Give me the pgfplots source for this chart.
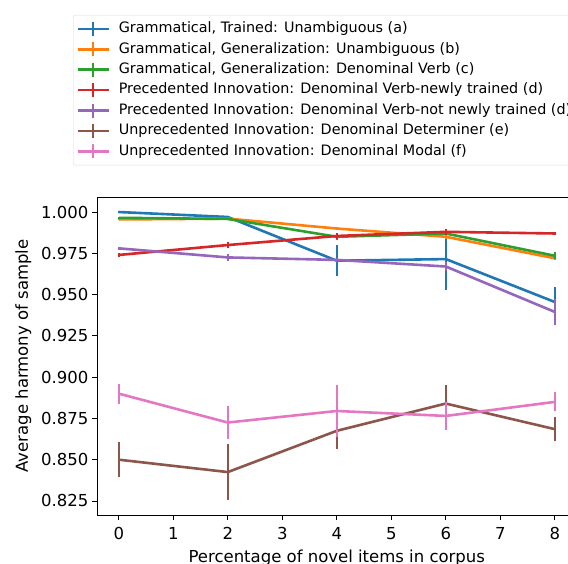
\documentclass[border=0pt]{standalone}
\usepackage{fontspec}
\setmainfont{DejaVu Sans}
\usepackage{pgfplots}
\pgfplotsset{compat=1.18}
\definecolor{c0}{HTML}{1F77B4}
\definecolor{c1}{HTML}{FF7F0E}
\definecolor{c2}{HTML}{2CA02C}
\definecolor{c3}{HTML}{D62728}
\definecolor{c4}{HTML}{9467BD}
\definecolor{c5}{HTML}{8C564B}
\definecolor{c6}{HTML}{E377C2}
\begin{document}
\begin{tikzpicture}
\begin{axis}[
  at={(97pt,48pt)}, anchor=south west,
  scale only axis, width=479.6pt, height=318pt,
  xmin=-0.4, xmax=8.4, ymin=0.8165, ymax=1.0091,
  xtick={0,1,2,3,4,5,6,7,8},
  ytick={0.825,0.85,0.875,0.9,0.925,0.95,0.975,1.0},
  yticklabel style={/pgf/number format/.cd, fixed, fixed zerofill, precision=3},
  /pgf/number format/assume math mode=true,
  tick label style={font=\fontsize{16.5}{19}\selectfont},
  xticklabel style={yshift=-4pt},
  label style={font=\fontsize{16.5}{19}\selectfont},
  xlabel={Percentage of novel items in corpus},
  ylabel={Average harmony of sample},
  xlabel style={yshift=-3pt},
  ylabel style={yshift=3pt},
  tick align=outside, tick pos=left, major tick length=5pt,
  every tick/.style={black, line width=0.9pt},
  axis line style={line width=0.9pt},
  every axis plot/.append style={line width=2.6pt},
  legend image code/.code={\draw[line width=2.6pt] (0pt,0pt)--(31pt,0pt); \draw[line width=2.6pt] (15.5pt,-7pt)--(15.5pt,7pt); \path (38pt,0pt);},
  legend cell align=left,
  legend style={at={(-0.05,1.5723)}, anchor=north west, draw=black!15, rounded corners=2pt,
    font=\fontsize{14.35}{17}\selectfont, row sep=2.9pt, inner xsep=3pt, inner ysep=5pt,
    nodes={text height=10.5pt, text depth=3pt, inner ysep=2pt}},
  error bars/y dir=both, error bars/y explicit, error bars/error mark=none,
  error bars/error bar style={line width=2.6pt},
]
\addplot[c0] table[x=x,y=y,y error=e] {
x y e
0 1.000 0.0004
2 0.997 0.0008
4 0.9705 0.0093
6 0.9715 0.0185
8 0.9455 0.0088
};
\addlegendentry{Grammatical, Trained: Unambiguous (a)}
\addplot[c1] table[x=x,y=y,y error=e] {
x y e
0 0.9955 0.0003
2 0.9960 0.0005
4 0.9900 0.0010
6 0.9850 0.0015
8 0.9720 0.0010
};
\addlegendentry{Grammatical, Generalization: Unambiguous (b)}
\addplot[c2] table[x=x,y=y,y error=e] {
x y e
0 0.9965 0.0004
2 0.9958 0.0005
4 0.9850 0.0020
6 0.9870 0.0010
8 0.9735 0.0020
};
\addlegendentry{Grammatical, Generalization: Denominal Verb (c)}
\addplot[c3] table[x=x,y=y,y error=e] {
x y e
0 0.9740 0.0010
2 0.9800 0.0020
4 0.9855 0.0020
6 0.9880 0.0020
8 0.9870 0.0010
};
\addlegendentry{Precedented Innovation: Denominal Verb-newly trained (d)}
\addplot[c4] table[x=x,y=y,y error=e] {
x y e
0 0.9780 0.0010
2 0.9725 0.0020
4 0.9710 0.0010
6 0.9670 0.0030
8 0.9395 0.0080
};
\addlegendentry{Precedented Innovation: Denominal Verb-not newly trained (d)}
\addplot[c5] table[x=x,y=y,y error=e] {
x y e
0 0.8500 0.0106
2 0.8425 0.0170
4 0.8675 0.0110
6 0.8840 0.0115
8 0.8685 0.0072
};
\addlegendentry{Unprecedented Innovation: Denominal Determiner (e)}
\addplot[c6] table[x=x,y=y,y error=e] {
x y e
0 0.8900 0.0060
2 0.8725 0.0098
4 0.8795 0.0160
6 0.8765 0.0084
8 0.8850 0.0057
};
\addlegendentry{Unprecedented Innovation: Denominal Modal (f)}
\end{axis}
\pgfresetboundingbox
\path[use as bounding box] (0,0) rectangle (568pt,563pt);
\end{tikzpicture}
\end{document}
